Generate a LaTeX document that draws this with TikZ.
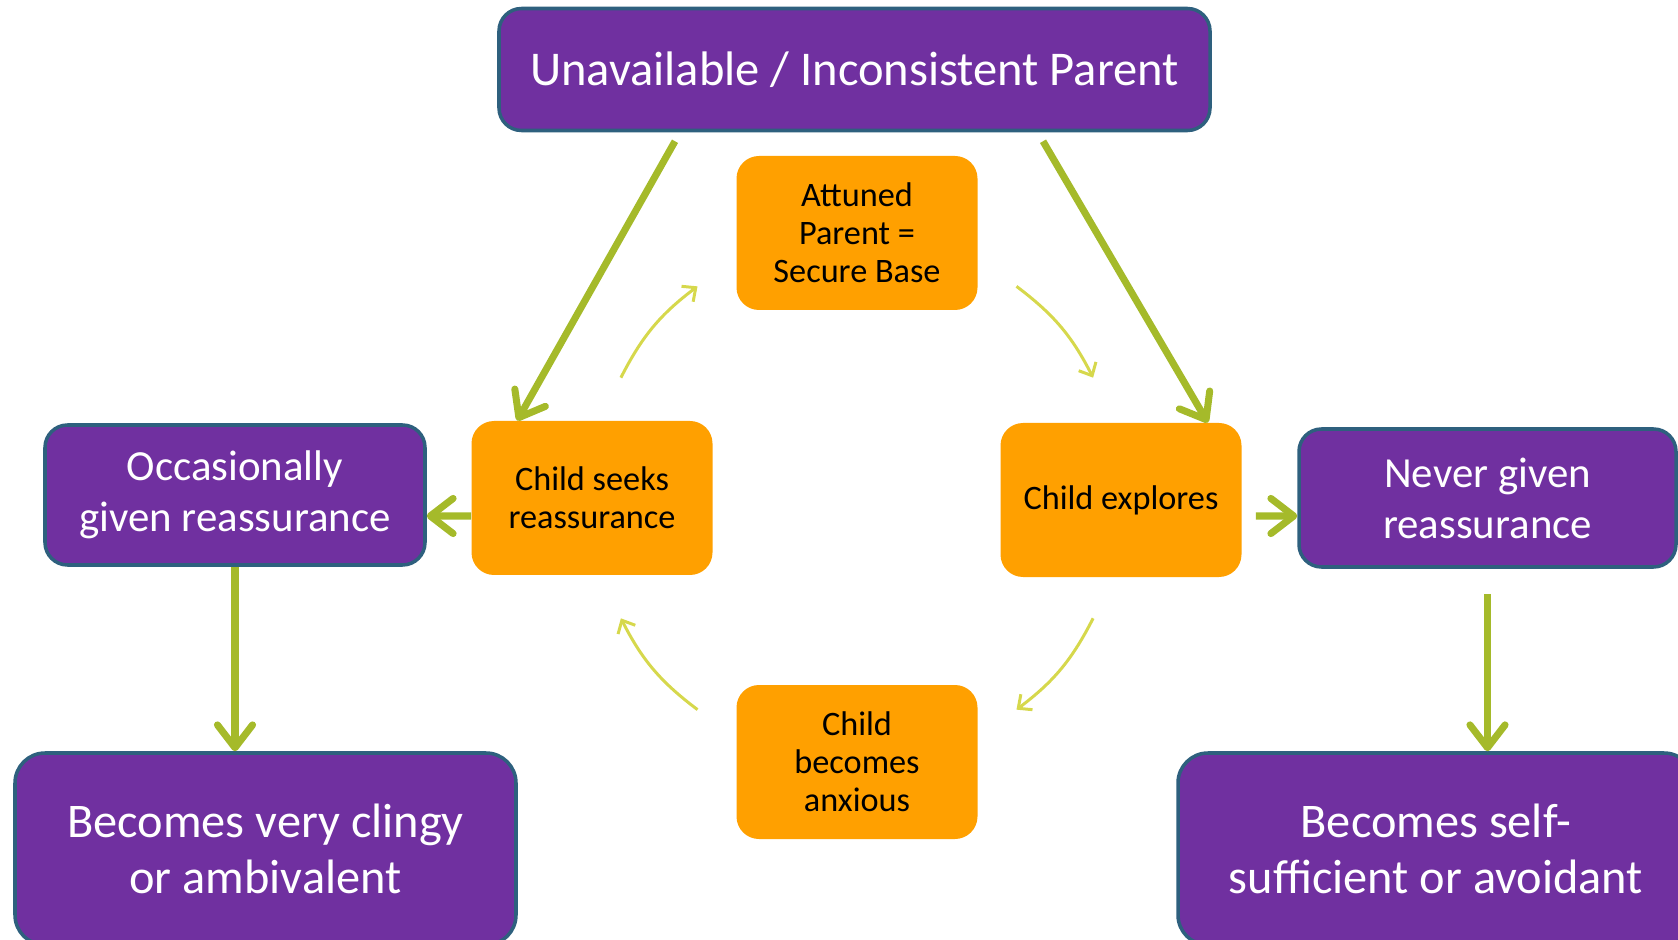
\documentclass[tikz,border=0pt]{standalone}
\usepackage{fontspec}
\setmainfont{Carlito}
\usetikzlibrary{positioning,arrows.meta,calc}
\definecolor{plum}{RGB}{112,48,160}
\definecolor{rim}{RGB}{46,96,126}
\definecolor{amber}{RGB}{255,160,0}
\definecolor{leaf}{RGB}{165,186,42}
\definecolor{lime}{RGB}{214,216,76}

\begin{document}
\begin{tikzpicture}[
  parentbox/.style={draw=rim, line width=2pt, fill=plum, text=white, rounded corners=0.45cm,
                    align=center, inner sep=0pt},
  cyclebox/.style={fill=amber, text=black, rounded corners=0.45cm, align=center, inner sep=0pt,
                   minimum width=4.82cm, minimum height=3.08cm, font=\fontsize{19.5}{21.5}\selectfont},
  big/.style={-{Straight Barb[length=13pt,width=20pt,round]}, draw=leaf, line width=4pt},
  cyc/.style={-{Straight Barb[length=6pt,width=11pt]}, draw=lime, line width=1.7pt},
]
\useasboundingbox (0,0) rectangle (33.56,18.78);

\node[parentbox, minimum width=14.22cm, minimum height=2.44cm, font=\fontsize{27.6}{32}\selectfont]
  (par) at (17.09,17.39) {Unavailable / Inconsistent Parent};

\node[cyclebox] (base) at (17.14,14.12) {Attuned\\Parent =\\Secure Base};
\node[cyclebox] (seek) at (11.84,8.82)  {Child seeks\\reassurance};
\node[cyclebox] (expl) at (22.42,8.78)  {Child explores};
\node[cyclebox] (anx)  at (17.14,3.54)  {Child\\becomes\\anxious};

\node[parentbox, minimum width=7.6cm, minimum height=2.8cm, font=\fontsize{24.4}{29}\selectfont]
  (occ) at (4.70,8.88) {Occasionally\\given reassurance};
\node[parentbox, minimum width=7.54cm, minimum height=2.76cm, font=\fontsize{24.4}{29}\selectfont]
  (nev) at (29.75,8.82) {Never given\\reassurance};
\node[parentbox, minimum width=10.02cm, minimum height=3.84cm, rounded corners=0.6cm,
      font=\fontsize{27.5}{31.8}\selectfont]
  (cling) at (5.31,1.80) {Becomes very clingy\\or ambivalent};
\node[parentbox, minimum width=10.32cm, minimum height=3.84cm, rounded corners=0.6cm,
      font=\fontsize{27.5}{31.8}\selectfont]
  (self) at (28.72,1.80) {Becomes self-\\sufficient or avoidant};

% parent to child
\draw[big] ([xshift=-3.59cm,yshift=-0.18cm]par.south) -- ([xshift=0.92cm]seek.north west);
\draw[big] ([xshift=3.77cm,yshift=-0.18cm]par.south) -- ([xshift=-0.68cm]expl.north east);
\draw[big] ([yshift=-0.36cm]seek.west) -- ([yshift=-0.42cm]occ.east);
\draw[big] ([xshift=0.28cm,yshift=-0.32cm]expl.east) -- ([yshift=-0.36cm]nev.west);
\draw[big] (occ.south) -- (occ.south |- cling.north);
\draw[big] ([yshift=-0.5cm]nev.south) -- (nev.south |- self.north);

% secure base cycle
\coordinate (hub) at (17.14,8.82);
\coordinate (a1) at ($(hub)+(153:5.3)$);
\coordinate (a2) at ($(hub)+(127:5.3)$);
\coordinate (b1) at ($(hub)+(53:5.3)$);
\coordinate (b2) at ($(hub)+(27:5.3)$);
\coordinate (c1) at ($(hub)+(-27:5.3)$);
\coordinate (c2) at ($(hub)+(-53:5.3)$);
\coordinate (d1) at ($(hub)+(-127:5.3)$);
\coordinate (d2) at ($(hub)+(-153:5.3)$);
\draw[cyc] (a1) to[bend left=13] (a2);
\draw[cyc] (b1) to[bend left=13] (b2);
\draw[cyc] (c1) to[bend left=13] (c2);
\draw[cyc] (d1) to[bend left=13] (d2);
\end{tikzpicture}
\end{document}
